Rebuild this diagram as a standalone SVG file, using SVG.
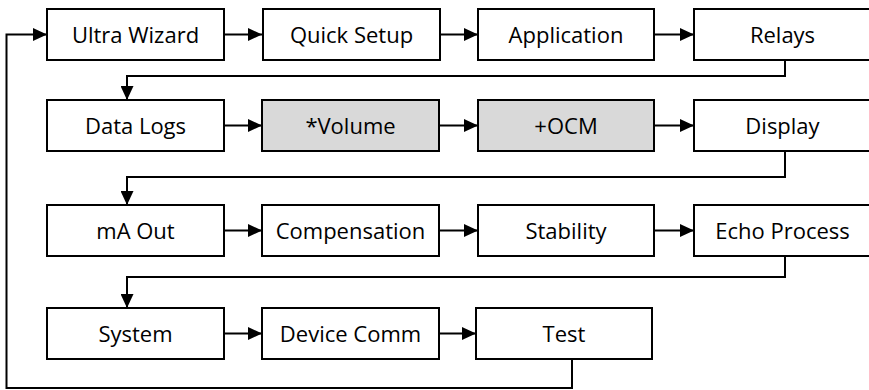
<svg xmlns="http://www.w3.org/2000/svg" width="869" height="390" viewBox="0 0 869 390">
<defs>
<style>
.box{fill:#ffffff;stroke:#000000;stroke-width:2}
.opt{fill:#d9d9d9;stroke:#000000;stroke-width:2}
.lbl{font-family:"Open Sans","Noto Sans",sans-serif;font-size:22px;fill:#000000;text-anchor:middle}
.con{fill:none;stroke:#000000;stroke-width:2}
</style>
<marker id="ah" markerUnits="userSpaceOnUse" markerWidth="15" markerHeight="13" refX="14" refY="6.5" orient="auto">
<path d="M0,0 L14,6.5 L0,13 z" fill="#000000"/>
</marker>
</defs>
<rect width="869" height="390" fill="#ffffff"/>
<g id="connectors">
<path class="con" d="M224,34.5 H262" marker-end="url(#ah)"/>
<path class="con" d="M440,34.5 H478" marker-end="url(#ah)"/>
<path class="con" d="M654,34.5 H694" marker-end="url(#ah)"/>
<path class="con" d="M785,60 V76 H127 V100" marker-end="url(#ah)"/>
<path class="con" d="M224,125.5 H262" marker-end="url(#ah)"/>
<path class="con" d="M439,125.5 H478" marker-end="url(#ah)"/>
<path class="con" d="M654,125.5 H694" marker-end="url(#ah)"/>
<path class="con" d="M785,151 V177 H127 V205" marker-end="url(#ah)"/>
<path class="con" d="M224,230.5 H262" marker-end="url(#ah)"/>
<path class="con" d="M439,230.5 H478" marker-end="url(#ah)"/>
<path class="con" d="M654,230.5 H694" marker-end="url(#ah)"/>
<path class="con" d="M785,256 V277 H127 V308" marker-end="url(#ah)"/>
<path class="con" d="M224,333.5 H262" marker-end="url(#ah)"/>
<path class="con" d="M439,333.5 H476" marker-end="url(#ah)"/>
<path class="con" d="M572,359 V388 H6.5 V34.5 H47" marker-end="url(#ah)"/>
</g>
<g id="ultra-wizard"><rect class="box" x="47" y="9" width="177" height="51"/><text class="lbl" x="135.5" y="42.5">Ultra Wizard</text></g>
<g id="quick-setup"><rect class="box" x="263" y="9" width="177" height="51"/><text class="lbl" x="351.5" y="42.5">Quick Setup</text></g>
<g id="application"><rect class="box" x="478" y="9" width="176" height="51"/><text class="lbl" x="566" y="42.5">Application</text></g>
<g id="relays"><rect class="box" x="694" y="9" width="177" height="51"/><text class="lbl" x="782.5" y="42.5">Relays</text></g>
<g id="data-logs"><rect class="box" x="47" y="100" width="177" height="51"/><text class="lbl" x="135.5" y="133.5">Data Logs</text></g>
<g id="volume"><rect class="opt" x="262" y="100" width="177" height="51"/><text class="lbl" x="350.5" y="133.5">*Volume</text></g>
<g id="ocm"><rect class="opt" x="478" y="100" width="176" height="51"/><text class="lbl" x="566" y="133.5">+OCM</text></g>
<g id="display"><rect class="box" x="694" y="100" width="177" height="51"/><text class="lbl" x="782.5" y="133.5">Display</text></g>
<g id="ma-out"><rect class="box" x="47" y="205" width="177" height="51"/><text class="lbl" x="135.5" y="238.5">mA Out</text></g>
<g id="compensation"><rect class="box" x="262" y="205" width="177" height="51"/><text class="lbl" x="350.5" y="238.5">Compensation</text></g>
<g id="stability"><rect class="box" x="478" y="205" width="176" height="51"/><text class="lbl" x="566" y="238.5">Stability</text></g>
<g id="echo-process"><rect class="box" x="694" y="205" width="177" height="51"/><text class="lbl" x="782.5" y="238.5">Echo Process</text></g>
<g id="system"><rect class="box" x="47" y="308" width="177" height="51"/><text class="lbl" x="135.5" y="341.5">System</text></g>
<g id="device-comm"><rect class="box" x="262" y="308" width="177" height="51"/><text class="lbl" x="350.5" y="341.5">Device Comm</text></g>
<g id="test"><rect class="box" x="476" y="308" width="176" height="51"/><text class="lbl" x="564" y="341.5">Test</text></g>
</svg>
